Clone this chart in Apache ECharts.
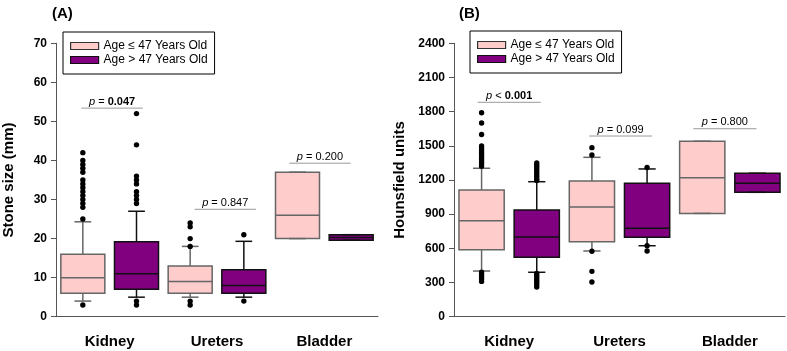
<!DOCTYPE html>
<html>
<head>
<meta charset="utf-8">
<script src="https://cdn.jsdelivr.net/npm/echarts@6/dist/echarts.min.js"></script>
<style>
  html, body { margin: 0; padding: 0; background: #fff; }
  #chart { width: 787px; height: 351px; }
</style>
</head>
<body>
<div id="chart"></div>
<script>
const categories = ['Kidney', 'Ureters', 'Bladder'];
const groups = ['Age ≤ 47 Years Old', 'Age > 47 Years Old'];

// [min, Q1, median, Q3, max] per category
const sizeYoung = [[4, 6, 10, 16, 24.3], [5, 6, 9, 13, 18], [20, 20, 26, 37, 37]];
const sizeOld = [[5, 7, 11, 19.2, 27], [5, 6, 8, 12, 19.3], [19.6, 19.6, 20.3, 21, 21]];
const sizeYoungOut = [[42, 40, 39, 38, 37, 35, 34, 33, 32, 31, 30, 29, 28, 25, 3], [24, 23, 20, 18, 4, 3], []];
const sizeOldOut = [[52, 44, 36, 35, 34, 32, 31, 30, 29, 4, 3], [21, 4], []];

const huYoung = [[401, 588, 843, 1112, 1303], [577, 658, 963, 1191, 1399], [907, 907, 1220, 1540, 1540]];
const huOld = [[390, 521, 700, 937, 1185], [623, 697, 776, 1171, 1297], [1092, 1092, 1171, 1259, 1259]];
const huYoungOut = [[1790, 1700, 1600, 1500, 1480, 1460, 1440, 1420, 1400, 1380, 1360, 1340, 1320,
  390, 370, 350, 330, 310], [1484, 1420, 575, 398, 305], []];
const huOldOut = [[1350, 1330, 1310, 1290, 1270, 1250, 1230, 1210, 1195,
  380, 360, 340, 320, 300, 280, 260], [1310, 623, 577], []];

// p-value labels
const pTextA = ['= {b|0.047}', '= 0.847', '= 0.200'];
const pLevelA = [53.4, 27.5, 39.3];
const pTextB = ['< {b|0.001}', '= 0.099', '= 0.800'];
const pLevelB = [1882, 1586, 1650];
// little sideways shift of the p-value lines, in bands
const pShiftA = [0.023, 0.077, -0.041];
const pShiftB = [0, 0.01, -0.045];

const font = 'Liberation Sans, Arial, sans-serif';
const pink = '#ffcccc', pinkLine = '#666666';
const purple = '#800080', purpleLine = '#111111';

function boxItem(side, fill, stroke) {
  return function (params, api) {
    const band = api.size([1, 0])[0];
    const c = api.coord([api.value(0), 0])[0] + side * band * 0.25;
    const hw = band * 0.205, cw = band * 0.078;
    const y = [1, 2, 3, 4, 5].map(function (d) {
      return api.coord([api.value(0), api.value(d)])[1];
    });
    const ln = { stroke: stroke, lineWidth: 1.5 };
    return {
      type: 'group',
      children: [
        { type: 'line', shape: { x1: c, y1: y[0], x2: c, y2: y[1] }, style: ln },
        { type: 'line', shape: { x1: c, y1: y[3], x2: c, y2: y[4] }, style: ln },
        { type: 'rect', shape: { x: c - hw, y: y[3], width: 2 * hw, height: y[1] - y[3] },
          style: { fill: fill, stroke: stroke, lineWidth: 1.5 } },
        { type: 'line', shape: { x1: c - hw, y1: y[2], x2: c + hw, y2: y[2] }, style: ln },
        { type: 'line', shape: { x1: c - cw, y1: y[0], x2: c + cw, y2: y[0] }, style: ln },
        { type: 'line', shape: { x1: c - cw, y1: y[4], x2: c + cw, y2: y[4] }, style: ln }
      ]
    };
  };
}

function dotItem(side) {
  return function (params, api) {
    const band = api.size([1, 0])[0];
    const p = api.coord([api.value(0), api.value(1)]);
    return {
      type: 'circle',
      shape: { cx: p[0] + side * band * 0.25, cy: p[1], r: 2.7 },
      style: { fill: '#000' }
    };
  };
}

function pItem(texts, shifts) {
  return function (params, api) {
    const band = api.size([1, 0])[0];
    const p = api.coord([api.value(0), api.value(1)]);
    const c = p[0] + shifts[params.dataIndex] * band;
    const hw = band * 0.286;
    return {
      type: 'group',
      children: [
        { type: 'line', shape: { x1: c - hw, y1: p[1], x2: c + hw, y2: p[1] },
          style: { stroke: '#999', lineWidth: 1 } },
        { type: 'text', x: c, y: p[1] - 1,
          style: {
            text: '{i|p} ' + texts[params.dataIndex],
            fontFamily: font, fontSize: 11, fill: '#000',
            align: 'center', verticalAlign: 'bottom',
            rich: {
              i: { fontStyle: 'italic', fontFamily: font, fontSize: 11 },
              b: { fontWeight: 'bold', fontFamily: font, fontSize: 11 }
            }
          } }
      ]
    };
  };
}

function boxData(stats) {
  return stats.map(function (s, i) { return [i].concat(s); });
}
function dotData(outs) {
  const out = [];
  outs.forEach(function (list, i) {
    list.forEach(function (v) { out.push([i, v]); });
  });
  return out;
}
function pData(levels) {
  return levels.map(function (v, i) { return [i, v]; });
}

function panelSeries(idx, young, old, youngOut, oldOut, pText, pLevel, pShift) {
  const base = { type: 'custom', xAxisIndex: idx, yAxisIndex: idx, encode: { x: 0, y: [1, 2, 3, 4, 5] } };
  return [
    Object.assign({}, base, { name: groups[0], renderItem: boxItem(-1, pink, pinkLine), data: boxData(young),
      itemStyle: { color: pink } }),
    Object.assign({}, base, { name: groups[1], renderItem: boxItem(1, purple, purpleLine), data: boxData(old),
      itemStyle: { color: purple } }),
    { type: 'custom', xAxisIndex: idx, yAxisIndex: idx, renderItem: dotItem(-1), data: dotData(youngOut),
      encode: { x: 0, y: 1 }, silent: true },
    { type: 'custom', xAxisIndex: idx, yAxisIndex: idx, renderItem: dotItem(1), data: dotData(oldOut),
      encode: { x: 0, y: 1 }, silent: true },
    { type: 'custom', xAxisIndex: idx, yAxisIndex: idx, renderItem: pItem(pText, pShift), data: pData(pLevel),
      encode: { x: 0, y: 1 }, silent: true }
  ];
}

function xAxisOf(gridIndex) {
  return {
    type: 'category', gridIndex: gridIndex, data: categories, boundaryGap: true,
    axisLine: { lineStyle: { color: '#555', width: 1 } },
    axisTick: { show: false },
    axisLabel: { margin: 18, fontSize: 15, fontWeight: 'bold', color: '#000', fontFamily: font },
    splitLine: { show: false }
  };
}
function yAxisOf(gridIndex, name, max, interval, gap) {
  return {
    type: 'value', gridIndex: gridIndex, min: 0, max: max, interval: interval,
    name: name, nameLocation: 'middle', nameGap: gap,
    nameTextStyle: { fontSize: 15, fontWeight: 'bold', color: '#000', fontFamily: font },
    axisLine: { show: true, lineStyle: { color: '#555', width: 1 } },
    axisTick: { show: true, length: 5, lineStyle: { color: '#555' } },
    axisLabel: { margin: 9, fontSize: 12, fontWeight: 'bold', color: '#000', fontFamily: font,
      formatter: function (v) { return String(v); } },
    splitLine: { show: false }
  };
}
function legendOf(left, top) {
  return {
    left: left, top: top, orient: 'vertical', icon: 'rect',
    itemWidth: 28, itemHeight: 7, itemGap: 0,
    padding: [7, 7, 7, 7],
    borderColor: '#000', borderWidth: 1, backgroundColor: '#fff',
    textStyle: { fontSize: 12, color: '#000', fontFamily: font, lineHeight: 14 },
    data: [
      { name: groups[0], itemStyle: { color: pink, borderColor: '#333', borderWidth: 1.2 } },
      { name: groups[1], itemStyle: { color: purple, borderColor: '#111', borderWidth: 1.2 } }
    ],
    selectedMode: false
  };
}

const chart = echarts.init(document.getElementById('chart'));
chart.setOption({
  animation: false,
  textStyle: { fontFamily: font },
  title: [
    { text: '(A)', left: 47, top: 1, textStyle: { fontSize: 15, fontWeight: 'bold', color: '#000', fontFamily: font } },
    { text: '(B)', left: 454, top: 1, textStyle: { fontSize: 15, fontWeight: 'bold', color: '#000', fontFamily: font } }
  ],
  legend: [legendOf(63, 32), legendOf(470, 31)],
  grid: [
    { left: 47, top: 43.3, width: 331, height: 273.4 },
    { left: 454, top: 43.3, width: 331, height: 273.4 }
  ],
  xAxis: [xAxisOf(0), xAxisOf(1)],
  yAxis: [
    yAxisOf(0, 'Stone size (mm)', 70, 10, 40),
    yAxisOf(1, 'Hounsfield units', 2400, 300, 47)
  ],
  series: panelSeries(0, sizeYoung, sizeOld, sizeYoungOut, sizeOldOut, pTextA, pLevelA, pShiftA)
    .concat(panelSeries(1, huYoung, huOld, huYoungOut, huOldOut, pTextB, pLevelB, pShiftB))
});
</script>
</body>
</html>
